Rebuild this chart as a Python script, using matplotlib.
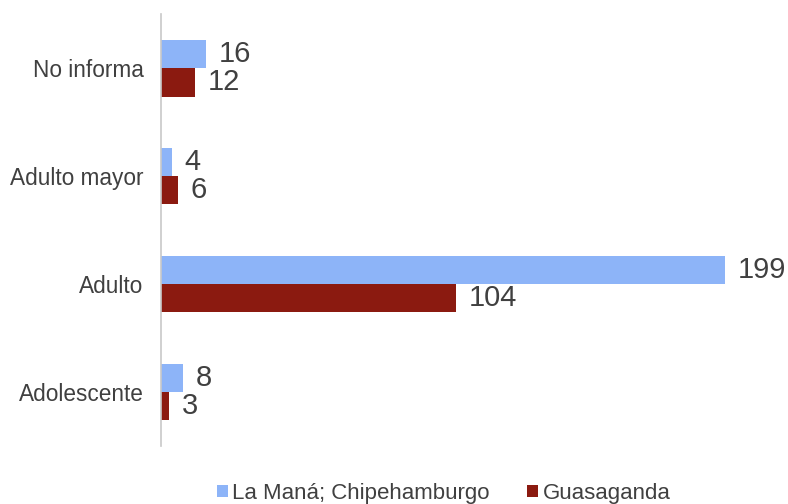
import numpy as np
import matplotlib.pyplot as plt

plt.rcParams['font.family'] = ['Liberation Sans', 'DejaVu Sans']

categories = ['Adolescente', 'Adulto', 'Adulto mayor', 'No informa']
la_mana = [8, 199, 4, 16]
guasaganda = [3, 104, 6, 12]
series_names = ['La Maná; Chipehamburgo', 'Guasaganda']

blue = '#8DB4F8'
red = '#8B1A10'
text_col = '#404040'

fig = plt.figure(figsize=(7.88, 5.04), dpi=100)
ax = fig.add_axes([0.204, 0.115, 0.792, 0.857])

y = np.arange(len(categories))
h = 0.263
b1 = ax.barh(y + h / 2, la_mana, height=h, color=blue, label=series_names[0])
b2 = ax.barh(y - h / 2, guasaganda, height=h, color=red, label=series_names[1])

# value labels next to each bar end
for bars, vals in [(b1, la_mana), (b2, guasaganda)]:
    for bar, v in zip(bars, vals):
        ax.text(bar.get_width() + 4.5, bar.get_y() + bar.get_height() / 2, str(v),
                va='center', ha='left', fontsize=21, color=text_col)

ax.set_xlim(0, 220)
ax.set_ylim(-0.5, len(categories) - 0.5)
ax.set_yticks(y)
ax.set_yticklabels(categories, fontsize=16.3, color=text_col)
ax.tick_params(axis='y', length=0, pad=12.5)
ax.set_xticks([])
for s in ['top', 'right', 'bottom']:
    ax.spines[s].set_visible(False)
ax.spines['left'].set_color('#c8c8c8')
ax.spines['left'].set_linewidth(1.2)

fig.legend(handles=[b1, b2], labels=series_names, loc='center',
           bbox_to_anchor=(0.563, 0.021), ncol=2, frameon=False,
           fontsize=16, handlelength=0.5, handleheight=0.5,
           handletextpad=0.2, columnspacing=1.7, labelcolor=text_col)

fig.savefig('out.png', dpi=100)
